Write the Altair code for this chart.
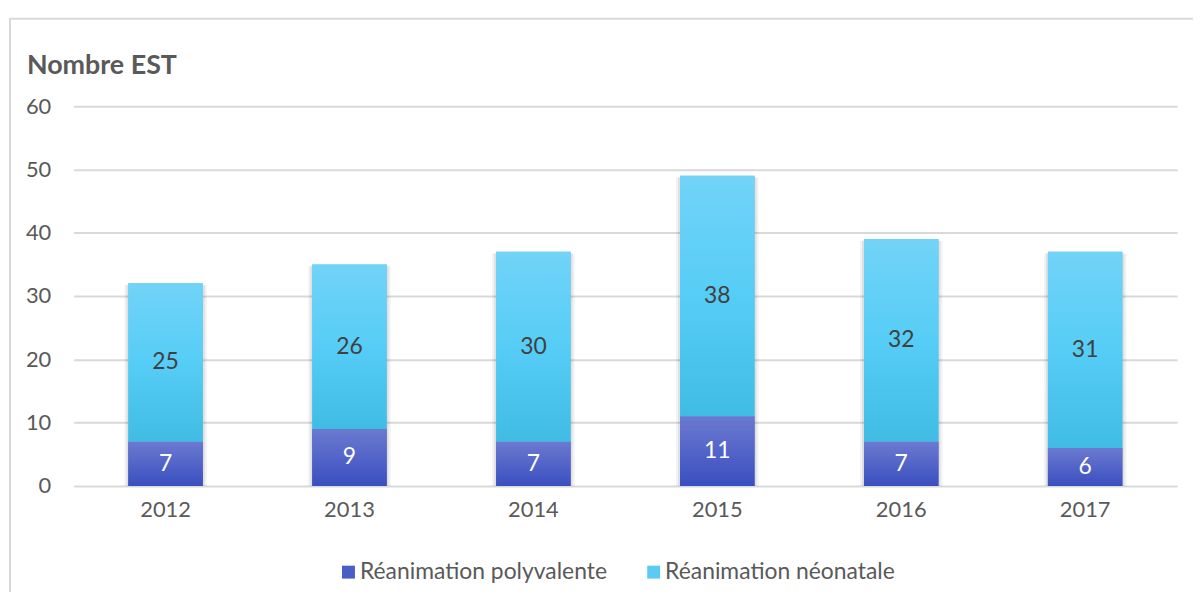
import altair as alt
import pandas as pd

years = ["2012", "2013", "2014", "2015", "2016", "2017"]
polyvalente = [7, 9, 7, 11, 7, 6]
neonatale = [25, 26, 30, 38, 32, 31]
series_names = ["Réanimation polyvalente", "Réanimation néonatale"]
y_ticks = [0, 10, 20, 30, 40, 50, 60]

FONT = "Lato"
TXT = "#595959"

rows = []
for yr, p, n in zip(years, polyvalente, neonatale):
    rows.append({"year": yr, "series": series_names[0], "value": p, "lo": 0, "hi": p})
    rows.append({"year": yr, "series": series_names[1], "value": n, "lo": p, "hi": p + n})
df = pd.DataFrame(rows)
df["mid"] = (df["lo"] + df["hi"]) / 2

xscale = alt.Scale(domain=years, paddingInner=0.595, paddingOuter=0.2975)
yscale = alt.Scale(domain=[0, 60], nice=False)

xenc = alt.X("year:N", scale=xscale, sort=years,
             axis=alt.Axis(title=None, labelAngle=0, ticks=False, domain=False, grid=False,
                           labelPadding=14, labelFontSize=22, labelColor=TXT, labelFont=FONT))
yenc = alt.Y("lo:Q", scale=yscale,
             axis=alt.Axis(title=None, values=y_ticks, ticks=False, domain=False, grid=True,
                           gridColor="#d9d9d9", gridWidth=2, labelPadding=23,
                           labelFontSize=22, labelColor=TXT, labelFont=FONT))

base = alt.Chart(df)

border = alt.Chart(pd.DataFrame({"a": [0]})).mark_rect(
    filled=False, stroke="#d9d9d9", strokeWidth=2
).encode(x=alt.value(-64), x2=alt.value(1300), y=alt.value(-88), y2=alt.value(700))

title = alt.Chart(pd.DataFrame({"t": ["Nombre EST"]})).mark_text(
    align="left", baseline="alphabetic", font=FONT, fontSize=27, fontWeight="bold", color=TXT
).encode(x=alt.value(-47), y=alt.value(-32), text="t:N")

shadow1 = base.transform_filter(alt.datum.series == series_names[1]).mark_bar(
    color="#000000", opacity=0.05, width=83, yOffset=2
).encode(x=xenc, y=alt.Y("hi:Q", scale=yscale), y2=alt.datum(0))
shadow2 = base.transform_filter(alt.datum.series == series_names[1]).mark_bar(
    color="#000000", opacity=0.07, width=79, yOffset=1.5
).encode(x=xenc, y=alt.Y("hi:Q", scale=yscale), y2=alt.datum(0))

bars = base.mark_bar().encode(
    x=xenc,
    y=yenc,
    y2="hi:Q",
    color=alt.Color("series:N", scale=alt.Scale(domain=series_names, range=["#4a5ec8", "#5ccbf3"]),
                    legend=alt.Legend(title=None, orient="none", direction="horizontal",
                                      legendX=265, legendY=457, symbolType="square",
                                      symbolSize=169, symbolStrokeWidth=0, labelFont=FONT,
                                      labelFontSize=23, labelColor=TXT, labelOffset=0,
                                      labelLimit=0, columnPadding=35, symbolOpacity=1)),
)

grad_poly = alt.Gradient(gradient="linear", x1=0, x2=0, y1=0, y2=1,
                         stops=[alt.GradientStop(color="#6b7ad0", offset=0),
                                alt.GradientStop(color="#3a4fc0", offset=1)])
grad_neo = alt.Gradient(gradient="linear", x1=0, x2=0, y1=0, y2=1,
                        stops=[alt.GradientStop(color="#72d3f7", offset=0),
                               alt.GradientStop(color="#56cdf6", offset=0.5),
                               alt.GradientStop(color="#40bce4", offset=1)])

poly_layer = base.transform_filter(alt.datum.series == series_names[0]).mark_bar(color=grad_poly).encode(
    x=xenc, y=alt.Y("lo:Q", scale=yscale), y2="hi:Q")
neo_layer = base.transform_filter(alt.datum.series == series_names[1]).mark_bar(color=grad_neo).encode(
    x=xenc, y=alt.Y("lo:Q", scale=yscale), y2="hi:Q")

labels = base.mark_text(font=FONT, fontSize=23, baseline="middle", align="center").encode(
    x=xenc,
    y=alt.Y("mid:Q", scale=yscale),
    text="value:Q",
    color=alt.condition(alt.datum.series == series_names[0], alt.value("#ffffff"), alt.value("#404040")),
)

chart = alt.layer(border, title, shadow1, shadow2, bars, poly_layer, neo_layer, labels).properties(
    width=1110, height=382,
    autosize=alt.AutoSizeParams(type="none"),
    padding={"left": 66, "top": 97, "right": 16, "bottom": 105},
).configure(background="white").configure_view(stroke="transparent", strokeWidth=0)

chart.save("out.html", embed_options={"renderer": "svg", "actions": False})
